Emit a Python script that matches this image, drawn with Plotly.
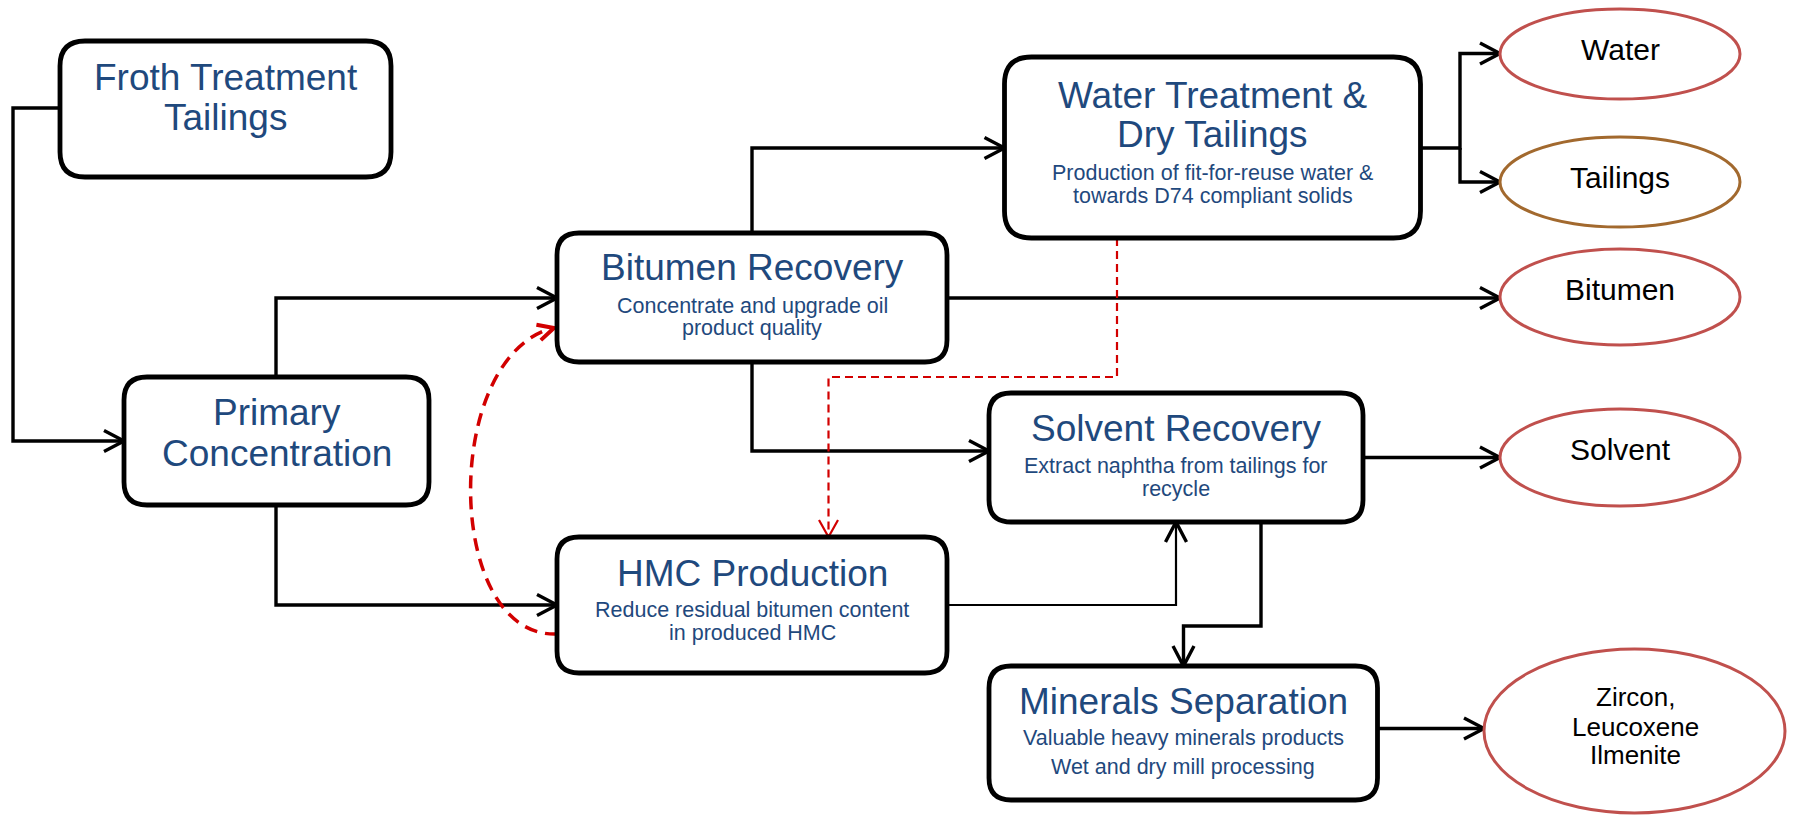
import math
import plotly.graph_objects as go

W, H = 1793, 815

# ---------------- content ----------------
process_nodes = ["froth", "primary", "bitumen", "hmc", "water", "solvent", "minerals"]
process_titles = {
    "froth": ["Froth Treatment", "Tailings"],
    "primary": ["Primary", "Concentration"],
    "bitumen": ["Bitumen Recovery"],
    "hmc": ["HMC Production"],
    "water": ["Water Treatment &", "Dry Tailings"],
    "solvent": ["Solvent Recovery"],
    "minerals": ["Minerals Separation"],
}
process_notes = {
    "froth": [],
    "primary": [],
    "bitumen": ["Concentrate and upgrade oil", "product quality"],
    "hmc": ["Reduce residual bitumen content", "in produced HMC"],
    "water": ["Production of fit-for-reuse water &", "towards D74 compliant solids"],
    "solvent": ["Extract naphtha from tailings for", "recycle"],
    "minerals": ["Valuable heavy minerals products", "Wet and dry mill processing"],
}
product_nodes = ["water_out", "tailings_out", "bitumen_out", "solvent_out", "minerals_out"]
product_labels = {
    "water_out": ["Water"],
    "tailings_out": ["Tailings"],
    "bitumen_out": ["Bitumen"],
    "solvent_out": ["Solvent"],
    "minerals_out": ["Zircon,", "Leucoxene", "Ilmenite"],
}
flow_links = [
    ("froth", "primary"), ("primary", "bitumen"), ("primary", "hmc"),
    ("bitumen", "water"), ("bitumen", "solvent"), ("bitumen", "bitumen_out"),
    ("water", "water_out"), ("water", "tailings_out"), ("solvent", "solvent_out"),
    ("hmc", "solvent"), ("solvent", "minerals"), ("minerals", "minerals_out"),
]
recycle_links = [("water", "hmc"), ("hmc", "bitumen")]

# ---------------- geometry / style (pixel space) ----------------
box_geom = {
    "froth": (60, 41, 391, 177), "primary": (124, 377, 429, 505),
    "bitumen": (557, 233, 947, 362), "hmc": (557, 537, 947, 673),
    "water": (1004.5, 57, 1420.5, 238), "solvent": (989, 393, 1363, 522),
    "minerals": (989, 666, 1377.5, 800),
}
box_radius = {"froth": 25, "primary": 23, "bitumen": 22, "hmc": 22, "water": 27,
              "solvent": 22, "minerals": 22}
title_y = {"froth": [77, 117], "primary": [412, 453], "bitumen": [267.5], "hmc": [573],
           "water": [95, 134], "solvent": [428], "minerals": [701]}
title_size = 37
note_size = 21.5
note_y = {"froth": [], "primary": [], "bitumen": [306, 328], "hmc": [610, 632.5],
          "water": [173, 195.6], "solvent": [466, 489], "minerals": [737.5, 767]}
ell_geom = {
    "water_out": (1500, 9, 1740, 99), "tailings_out": (1500, 137, 1740, 227),
    "bitumen_out": (1500, 249, 1740, 345), "solvent_out": (1500, 409, 1740, 506),
    "minerals_out": (1484, 649, 1785, 813),
}
ell_color = {"water_out": "#C0504D", "tailings_out": "#A2692E", "bitumen_out": "#C0504D",
             "solvent_out": "#C0504D", "minerals_out": "#C0504D"}
ell_text_y = {"water_out": [49], "tailings_out": [177], "bitumen_out": [289],
              "solvent_out": [449], "minerals_out": [697, 727, 755]}
ell_text_x = {"water_out": 1620, "tailings_out": 1620, "bitumen_out": 1620,
              "solvent_out": 1620, "minerals_out": 1635}
ell_text_size = {"water_out": 30, "tailings_out": 30, "bitumen_out": 30,
                 "solvent_out": 30, "minerals_out": 26}
flow_route = {
    ("froth", "primary"): [(60, 108), (13, 108), (13, 441), (124, 441)],
    ("primary", "bitumen"): [(276, 377), (276, 298), (557, 298)],
    ("primary", "hmc"): [(276, 505), (276, 605), (557, 605)],
    ("bitumen", "water"): [(752, 233), (752, 148), (1004.5, 148)],
    ("bitumen", "solvent"): [(752, 362), (752, 451), (989, 451)],
    ("bitumen", "bitumen_out"): [(947, 298), (1500, 298)],
    ("water", "water_out"): [(1420.5, 148), (1460, 148), (1460, 53.5), (1500, 53.5)],
    ("water", "tailings_out"): [(1460, 148), (1460, 182), (1500, 182)],
    ("solvent", "solvent_out"): [(1363, 457.5), (1500, 457.5)],
    ("hmc", "solvent"): [(947, 605), (1176, 605), (1176, 522)],
    ("solvent", "minerals"): [(1261, 522), (1261, 626), (1183.5, 626), (1183.5, 666)],
    ("minerals", "minerals_out"): [(1377.5, 728.5), (1484, 728.5)],
}
flow_width = {("hmc", "solvent"): 2.2}
recycle_route = {
    ("water", "hmc"): "M1117,238 L1117,377 L828.5,377 L828.5,537",
    ("hmc", "bitumen"): "M558,634 C445,640 440,360 552,328",
}
recycle_tip = {("water", "hmc"): ((828.5, 537), (0, 1), 17, 9.5, 2.2),
               ("hmc", "bitumen"): ((554, 328), (111, -32), 16, 8, 4)}
recycle_style = {("water", "hmc"): (2.2, "8px,5px"), ("hmc", "bitumen"): (3.5, "13px,8px")}

BLUE = "#1F497D"
RED = "#D20000"
FONT = "Liberation Sans, Arial, sans-serif"

shapes = []
annotations = []


def chevron(tip, direction, length, spread, width, color):
    dx, dy = direction
    n = math.hypot(dx, dy)
    ux, uy = dx / n, dy / n
    px, py = -uy, ux
    bx, by = tip[0] - ux * length, tip[1] - uy * length
    p1 = (bx + px * spread, by + py * spread)
    p2 = (bx - px * spread, by - py * spread)
    path = f"M{p1[0]:.2f},{p1[1]:.2f} L{tip[0]:.2f},{tip[1]:.2f} L{p2[0]:.2f},{p2[1]:.2f}"
    return dict(type="path", path=path, line=dict(color=color, width=width),
                xref="x", yref="y", layer="above")


# black flow lines
for link in flow_links:
    pts = flow_route[link]
    w = flow_width.get(link, 3.4)
    path = "M" + " L".join(f"{x},{y}" for x, y in pts)
    shapes.append(dict(type="path", path=path, line=dict(color="black", width=w),
                       xref="x", yref="y", layer="above"))
    (x1, y1), (x2, y2) = pts[-2], pts[-1]
    shapes.append(chevron((x2, y2), (x2 - x1, y2 - y1), 20, 10.5, 3.4, "black"))

# red recycle lines
for link in recycle_links:
    w, dash = recycle_style[link]
    shapes.append(dict(type="path", path=recycle_route[link],
                       line=dict(color=RED, width=w, dash=dash),
                       xref="x", yref="y", layer="above"))
    tip, d, L, s, aw = recycle_tip[link]
    shapes.append(chevron(tip, d, L, s, aw, RED))


def rrect(x0, y0, x1, y1, r):
    return (f"M{x0 + r},{y0} L{x1 - r},{y0} Q{x1},{y0} {x1},{y0 + r} "
            f"L{x1},{y1 - r} Q{x1},{y1} {x1 - r},{y1} L{x0 + r},{y1} "
            f"Q{x0},{y1} {x0},{y1 - r} L{x0},{y0 + r} Q{x0},{y0} {x0 + r},{y0} Z")


# process boxes
for node in process_nodes:
    x0, y0, x1, y1 = box_geom[node]
    shapes.append(dict(type="path", path=rrect(x0, y0, x1, y1, box_radius[node]),
                       line=dict(color="black", width=4.8), fillcolor="white",
                       xref="x", yref="y", layer="above"))
    cx = (x0 + x1) / 2
    for txt, yy in zip(process_titles[node], title_y[node]):
        annotations.append(dict(x=cx, y=yy, text=txt, showarrow=False, xref="x", yref="y",
                                xanchor="center", yanchor="middle",
                                font=dict(family=FONT, size=title_size, color=BLUE)))
    for txt, yy in zip(process_notes[node], note_y[node]):
        annotations.append(dict(x=cx, y=yy, text=txt, showarrow=False, xref="x", yref="y",
                                xanchor="center", yanchor="middle",
                                font=dict(family=FONT, size=note_size, color=BLUE)))

# product ellipses
for node in product_nodes:
    x0, y0, x1, y1 = ell_geom[node]
    shapes.append(dict(type="circle", x0=x0, y0=y0, x1=x1, y1=y1, xref="x", yref="y",
                       line=dict(color=ell_color[node], width=3), fillcolor="white",
                       layer="above"))
    for txt, yy in zip(product_labels[node], ell_text_y[node]):
        annotations.append(dict(x=ell_text_x[node], y=yy, text=txt, showarrow=False,
                                xref="x", yref="y", xanchor="center", yanchor="middle",
                                font=dict(family=FONT, size=ell_text_size[node], color="black")))

fig = go.Figure()
fig.add_trace(go.Scatter(x=[0, W], y=[0, H], mode="markers", marker=dict(opacity=0),
                         hoverinfo="skip", showlegend=False))
fig.update_layout(
    width=W, height=H, margin=dict(l=0, r=0, t=0, b=0),
    paper_bgcolor="white", plot_bgcolor="white",
    xaxis=dict(range=[0, W], visible=False, fixedrange=True),
    yaxis=dict(range=[H, 0], visible=False, fixedrange=True),
    shapes=shapes, annotations=annotations, showlegend=False,
)
fig.write_html("out.html", config={"displayModeBar": False},
               post_script="document.body.style.margin='0';document.body.style.overflow='hidden';")
